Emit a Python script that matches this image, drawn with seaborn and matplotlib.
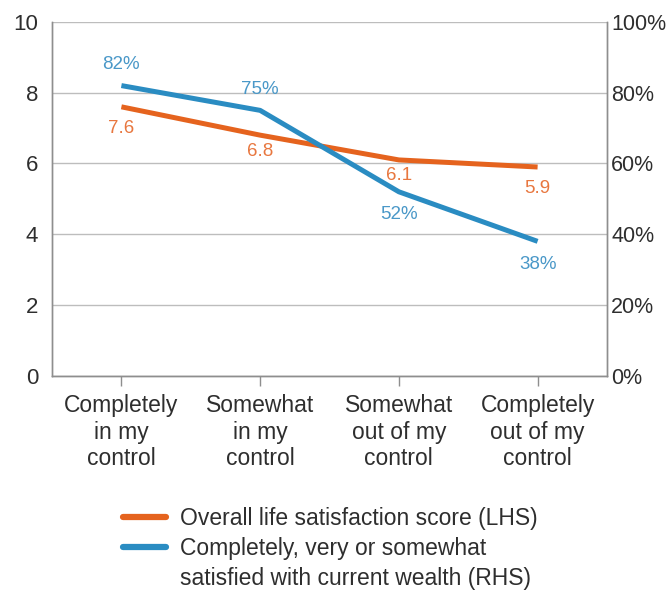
import matplotlib
matplotlib.use("Agg")
import matplotlib.pyplot as plt
import seaborn as sns
import pandas as pd
from matplotlib.lines import Line2D

# Data
categories = ["Completely\nin my\ncontrol", "Somewhat\nin my\ncontrol",
              "Somewhat\nout of my\ncontrol", "Completely\nout of my\ncontrol"]
life_score = [7.6, 6.8, 6.1, 5.9]          # left-hand scale
wealth_satisfied = [82, 75, 52, 38]         # right-hand scale, percent
left_ticks = [0, 2, 4, 6, 8, 10]
right_ticks = [0, 20, 40, 60, 80, 100]
series_names = ["Overall life satisfaction score (LHS)",
                "Completely, very or somewhat\nsatisfied with current wealth (RHS)"]

ORANGE = "#E5631E"
BLUE = "#2A8CC2"
ORANGE_TXT = "#E8773F"
BLUE_TXT = "#4A98C8"
TEXT = "#2E2E2E"
GRID = "#BDBDBD"

sns.set_theme(style="white")
plt.rcParams["font.family"] = ["Liberation Sans", "DejaVu Sans"]

df = pd.DataFrame({"pos": range(len(categories)),
                   "score": life_score,
                   "wealth": wealth_satisfied})

fig = plt.figure(figsize=(6.67, 5.91), dpi=100)
ax = fig.add_axes([0.078, 0.364, 0.832, 0.599])
ax2 = ax.twinx()

sns.lineplot(data=df, x="pos", y="score", ax=ax, color=ORANGE, linewidth=3.6,
             solid_capstyle="butt")
sns.lineplot(data=df, x="pos", y="wealth", ax=ax2, color=BLUE, linewidth=3.6,
             solid_capstyle="butt")

ax.set_xlim(-0.5, len(categories) - 0.5)
ax.set_ylim(0, 10)
ax2.set_ylim(0, 100)
ax.set_xlabel("")
ax.set_ylabel("")
ax2.set_ylabel("")

ax.set_yticks(left_ticks)
ax.set_yticklabels([str(t) for t in left_ticks])
ax2.set_yticks(right_ticks)
ax2.set_yticklabels([f"{t}%" for t in right_ticks])
ax.set_xticks(df["pos"])
ax.set_xticklabels(categories, linespacing=1.2)

ax.grid(axis="y", color=GRID, linewidth=1.0)
ax.set_axisbelow(True)

for a in (ax, ax2):
    for side in ("left", "right", "bottom"):
        a.spines[side].set_visible(True)
        a.spines[side].set_color("#8E8E8E")
        a.spines[side].set_linewidth(1.0)
    a.spines["top"].set_visible(False)

ax.tick_params(axis="y", length=0, pad=10, labelsize=16, labelcolor=TEXT)
ax2.tick_params(axis="y", length=0, pad=3, labelsize=15.5, labelcolor=TEXT)
ax.tick_params(axis="x", bottom=True, length=7, width=1, color="#8E8E8E",
               direction="out", pad=6, labelsize=16.5, labelcolor=TEXT)

# Value labels
score_offsets = [-0.6, -0.45, -0.45, -0.6]
for x, v, dy in zip(df["pos"], life_score, score_offsets):
    ax.text(x, v + dy, f"{v:.1f}", color=ORANGE_TXT, fontsize=13.5,
            ha="center", va="center")
wealth_offsets = [6, 6, -6.5, -6.5]
for x, v, dy in zip(df["pos"], wealth_satisfied, wealth_offsets):
    ax2.text(x, v + dy, f"{v}%", color=BLUE_TXT, fontsize=13.5,
             ha="center", va="center")

# Legend: the wrapped second entry keeps its swatch beside the first line
second_first, second_rest = series_names[1].split("\n")
handles = [Line2D([], [], color=ORANGE, linewidth=4.5),
           Line2D([], [], color=BLUE, linewidth=4.5),
           Line2D([], [], color="none", linewidth=0)]
labels = [series_names[0], second_first, second_rest]
fig.legend(handles, labels, loc="upper center",
           bbox_to_anchor=(0.495, 0.177), frameon=False, fontsize=16.5,
           handlelength=1.9, handletextpad=0.6, labelspacing=0.3,
           labelcolor=TEXT)

fig.savefig("out.png", dpi=100, facecolor="white")
